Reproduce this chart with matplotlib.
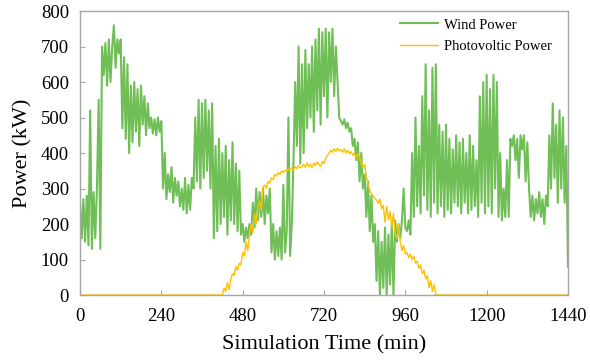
#!/usr/bin/env python3
"""Wind and photovoltaic power over one simulated day."""

import matplotlib

matplotlib.use("Agg")
import matplotlib.pyplot as plt
import numpy as np

# wind power (kW), sampled every 5 min from 0 to 1440 min, one row per hour
WIND_KW = [
    260, 160, 270, 150, 280, 140, 520, 130, 290, 160, 300, 550,
    130, 700, 620, 710, 590, 720, 600, 700, 760, 640, 720, 680,
    720, 470, 670, 440, 650, 400, 590, 430, 600, 460, 580, 420,
    590, 480, 560, 450, 540, 470, 500, 455, 495, 450, 500, 460,
    490, 300, 400, 270, 340, 290, 360, 260, 330, 280, 320, 250,
    300, 240, 330, 230, 310, 240, 330, 300, 500, 320, 550, 300,
    540, 330, 550, 350, 520, 300, 540, 160, 420, 180, 440, 200,
    400, 220, 420, 170, 380, 210, 430, 200, 370, 180, 350, 170,
    200, 150, 190, 160, 200, 170, 260, 190, 300, 210, 290, 220,
    300, 200, 280, 230, 300, 120, 200, 100, 180, 110, 190, 100,
    310, 120, 180, 500, 110, 200, 380, 600, 420, 700, 370, 650,
    400, 690, 470, 650, 500, 700, 460, 720, 520, 750, 480, 740,
    560, 750, 500, 740, 600, 750, 560, 700, 600, 500, 490, 480,
    495, 470, 485, 460, 470, 420, 440, 380, 430, 320, 400, 300,
    340, 220, 320, 180, 280, 150, 200, 40, 180, 0, 150, 20,
    190, 0, 170, 30, 200, 0, 210, 150, 200, 160, 210, 300,
    190, 180, 210, 170, 400, 220, 500, 250, 420, 230, 560, 280,
    650, 240, 520, 220, 640, 260, 650, 230, 480, 250, 460, 220,
    480, 240, 440, 230, 410, 260, 450, 250, 430, 230, 440, 260,
    400, 230, 450, 240, 420, 250, 380, 220, 560, 260, 600, 230,
    620, 250, 580, 230, 620, 300, 600, 220, 400, 210, 300, 220,
    380, 220, 440, 420, 450, 380, 440, 330, 450, 410, 450, 320,
    430, 300, 220, 280, 210, 270, 230, 290, 220, 270, 200, 280,
    250, 450, 300, 540, 330, 480, 260, 520, 300, 500, 260, 420,
    80,
]

# photovoltaic power (kW), every 5 min while the sun is up (420 to 1050 min)
PV_START = 420
PV_DAY_KW = [
    0, 20, 10, 35, 15, 45, 60, 55, 80, 70, 90, 85,
    120, 110, 150, 125, 170, 200, 175, 230, 200, 250, 265, 240,
    305, 310, 300, 320, 315, 330, 325, 340, 335, 345, 340, 350,
    345, 352, 348, 355, 350, 358, 352, 362, 356, 365, 358, 362,
    368, 360, 372, 362, 368, 358, 372, 365, 375, 368, 362, 376,
    370, 385, 392, 400, 408, 402, 412, 404, 414, 406, 410, 402,
    412, 400, 408, 398, 404, 394, 400, 384, 398, 388, 372, 360,
    368, 335, 310, 295, 285, 280, 272, 268, 258, 270, 242, 252,
    205, 250, 212, 235, 192, 230, 172, 160, 200, 150, 125, 140,
    115, 120, 105, 115, 100, 110, 90, 95, 75, 85, 60, 70,
    45, 55, 20, 40, 10, 30, 0,
]

X_TICKS = [0, 240, 480, 720, 960, 1200, 1440]
Y_TICKS = [0, 100, 200, 300, 400, 500, 600, 700, 800]

WIND_COLOR = "#70BF56"
PV_COLOR = "#FFC000"
FRAME_COLOR = "#A6A6A6"


def main() -> None:
    plt.rcParams.update(
        {
            "font.family": ["Liberation Serif", "DejaVu Serif"],
            "font.size": 13,
        }
    )

    wind = np.array(WIND_KW, dtype=float)
    t_wind = np.arange(len(wind)) * 5

    pv_day = np.array(PV_DAY_KW, dtype=float)
    t_day = PV_START + np.arange(len(pv_day)) * 5
    t_pv = np.concatenate([[0], t_day, [1440]])
    pv = np.concatenate([[0], pv_day, [0]])

    fig = plt.figure(figsize=(5.9, 3.62), dpi=100)
    ax = fig.add_axes([0.1356, 0.185, 0.8271, 0.7846])

    ax.plot(t_wind, wind, color=WIND_COLOR, linewidth=1.5, label="Wind Power")
    ax.plot(t_pv, pv, color=PV_COLOR, linewidth=1.0, label="Photovoltic Power")

    ax.set_xlim(0, 1440)
    ax.set_ylim(0, 800)
    ax.set_xticks(X_TICKS)
    ax.set_yticks(Y_TICKS)
    ax.tick_params(direction="in", length=3.5, width=0.8, color=FRAME_COLOR, labelsize=13.5)
    ax.tick_params(axis="x", pad=9)
    ax.tick_params(axis="y", pad=8)
    for spine in ax.spines.values():
        spine.set_color(FRAME_COLOR)
        spine.set_linewidth(1.0)

    ax.set_xlabel("Simulation Time (min)", fontsize=16, labelpad=8)
    ax.set_ylabel("Power (kW)", fontsize=16, labelpad=6)

    ax.legend(
        loc="upper right", bbox_to_anchor=(0.982, 1.0), frameon=False, fontsize=10.5,
        handlelength=2.6, handletextpad=0.4, labelspacing=0.6, borderaxespad=0.1,
    )

    fig.savefig("out.png", dpi=100)
    plt.close(fig)


if __name__ == "__main__":
    main()
